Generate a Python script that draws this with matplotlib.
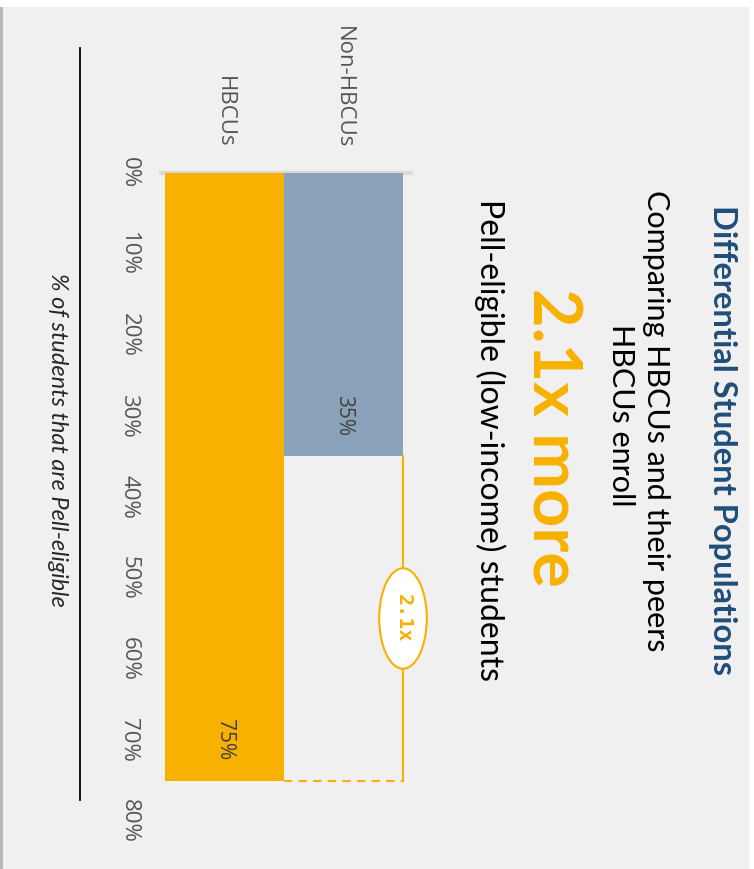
import matplotlib.pyplot as plt
from matplotlib.patches import Ellipse, Rectangle

# data
categories = ["HBCUs", "Non-HBCUs"]
pell_share = [75, 35]
tick_vals = [0, 10, 20, 30, 40, 50, 60, 70, 80]
tick_labels = ["0%", "10%", "20%", "30%", "40%", "50%", "60%", "70%", "80%"]
ratio_label = "2.1x"

W, H = 754, 869
bg = "#f0f0f0"
orange = "#f8b100"
steel = "#8aa2b9"
navy = "#1f4e79"
grey_txt = "#555555"

def fx(x):
    return x / W

def fy(y):
    return 1 - y / H

fig = plt.figure(figsize=(W / 100, H / 100), dpi=100, facecolor=bg)

# frame: white top/right edge and a shadow strip on the left
fig.patches.append(Rectangle((0, fy(7)), 1, 7 / H, transform=fig.transFigure,
                             facecolor="white", edgecolor="none", zorder=0))
fig.patches.append(Rectangle((fx(749), 0), 5 / W, 1, transform=fig.transFigure,
                             facecolor="white", edgecolor="none", zorder=0))
fig.patches.append(Rectangle((0, 0), 3 / W, fy(7), transform=fig.transFigure,
                             facecolor="#b8b8b8", edgecolor="none", zorder=0))

# value axis runs downward: 0% at y=173px, 8.1px per percent
top_px, px_per = 173, 8.1
ax = fig.add_axes([fx(165), fy(top_px + 80 * px_per), fx(403) - fx(165), 80 * px_per / H])
ax.set_facecolor("none")
ax.set_xlim(-0.5, 1.5)
ax.set_ylim(80, 0)

colors = [orange, steel]
ax.bar(range(len(categories)), pell_share, width=1.0, color=colors, zorder=2)

for i, v in enumerate(pell_share):
    ax.text(i, v - 5, f"{v}%", rotation=-90, ha="center", va="center",
            fontsize=15, color="#404040", family="Open Sans", zorder=3)

for s in ax.spines.values():
    s.set_visible(False)

# baseline at 0%
ax.plot([-0.55, 1.58], [0, 0], color="#d9d9d9", lw=3, clip_on=False, zorder=1,
        solid_capstyle="butt")

ax.set_yticks(tick_vals)
ax.set_yticklabels(tick_labels, rotation=-90, va="center", ha="center",
                   fontsize=16, color=grey_txt, family="Open Sans")
ax.tick_params(axis="y", length=0, pad=26)

ax.xaxis.tick_top()
ax.set_xticks(range(len(categories)))
ax.set_xticklabels(categories, rotation=-90, ha="center", va="bottom",
                   fontsize=16, color=grey_txt, family="Open Sans")
ax.tick_params(axis="x", length=0, pad=18)

# bracket between the two bar ends
lo, hi = min(pell_share), max(pell_share)
ax.plot([1.5, 1.5], [lo, hi], color=orange, lw=1.5, clip_on=False, zorder=3)
ax.plot([0.5, 1.5], [hi, hi], color=orange, lw=1.5, ls=(0, (4, 3)),
        clip_on=False, zorder=3)
ax.add_patch(Ellipse((1.5, (lo + hi) / 2), width=0.4, height=12.4,
                     facecolor="white", edgecolor=orange, lw=1.5,
                     clip_on=False, zorder=4))
ax.text(1.5, (lo + hi) / 2, ratio_label, rotation=-90, ha="center", va="center",
        fontsize=14.5, fontweight="bold", color=orange, family="DejaVu Sans Mono",
        zorder=5)

# axis title and rule
fig.add_artist(plt.Line2D([fx(80), fx(80)], [fy(48), fy(800)],
                          color="black", lw=1.3, transform=fig.transFigure))
fig.text(fx(57), fy(440), "% of students that are Pell-eligible", rotation=-90,
         ha="center", va="center", fontsize=17, style="italic", color="#262626",
         family="Lato")

# headline text
fig.text(fx(722), fy(440), "Differential Student Populations", rotation=-90,
         ha="center", va="center", fontsize=23.5, fontweight="bold", color=navy,
         family="Lato")
fig.text(fx(656), fy(421), "Comparing HBCUs and their peers", rotation=-90,
         ha="center", va="center", fontsize=22, color="black", family="Lato")
fig.text(fx(621), fy(415), "HBCUs enroll", rotation=-90,
         ha="center", va="center", fontsize=22, color="black", family="Lato")
fig.text(fx(551), fy(437), f"{ratio_label} more", rotation=-90,
         ha="center", va="center", fontsize=48, fontweight="bold", color=orange,
         family="Lato")
fig.text(fx(490), fy(440), "Pell-eligible (low-income) students", rotation=-90,
         ha="center", va="center", fontsize=23, color="black", family="Lato")

fig.savefig("out.png", dpi=100, facecolor=bg)
